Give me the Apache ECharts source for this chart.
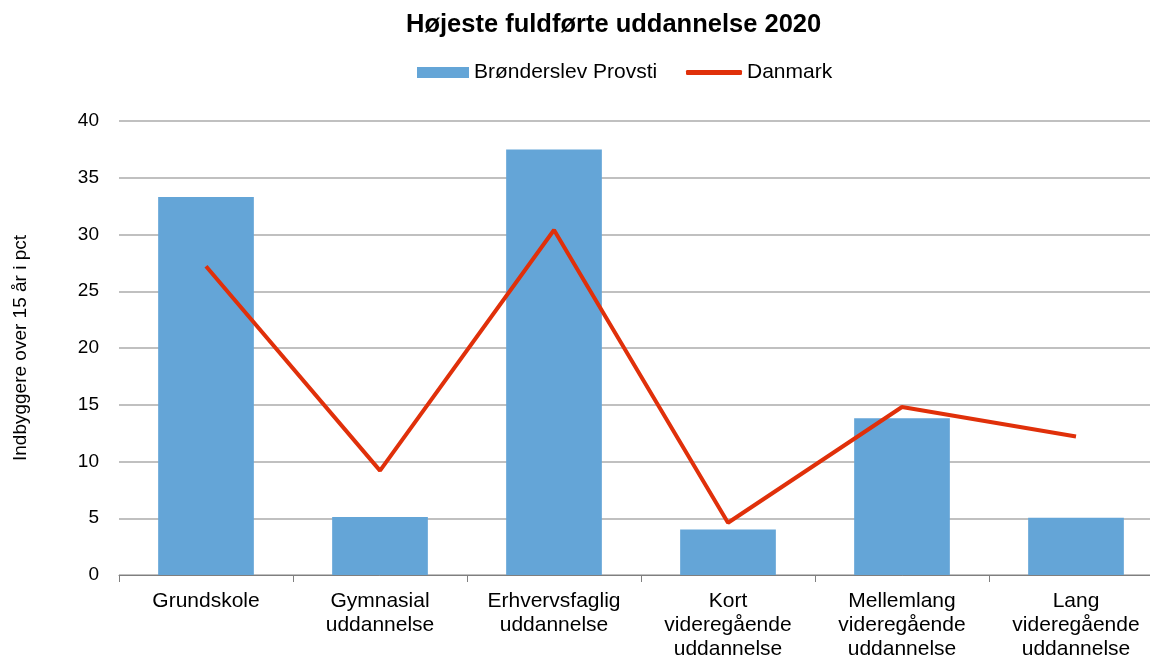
<html>
<head>
    <meta charset="utf-8">
    <title>Højeste fuldførte uddannelse 2020</title>
    <style>
    html, body {
      padding: 0;
      margin: 0;
      height: 100%;
      width: 100%;
      overflow: hidden;
      background: #fff;
    }
    #main {
      width: 1163px;
      height: 657px;
    }
    </style>
    <script src="https://cdn.jsdelivr.net/npm/echarts@6/dist/echarts.min.js"></script>
</head>
<body>
    <div id="main"></div>
    <script>
    var categories = ['Grundskole', 'Gymnasial\nuddannelse', 'Erhvervsfaglig\nuddannelse',
        'Kort\nvideregående\nuddannelse', 'Mellemlang\nvideregående\nuddannelse', 'Lang\nvideregående\nuddannelse'];
    var provsti = [33.3, 5.1, 37.5, 4.0, 13.8, 5.05];
    var danmark = [27.2, 9.2, 30.4, 4.6, 14.8, 12.2];

    var myChart = echarts.init(document.getElementById('main'));
    var font = 'Arial, "Liberation Sans", sans-serif';
    var option = {
        backgroundColor: '#fff',
        animation: false,
        title: {
            text: 'Højeste fuldførte uddannelse 2020',
            left: 401,
            top: 7,
            textStyle: { fontFamily: font, fontSize: 25.5, fontWeight: 'bold', color: '#000' }
        },
        legend: [
            {
                top: 57,
                left: 412,
                itemWidth: 52,
                itemHeight: 11,
                textStyle: { fontFamily: font, fontSize: 21, color: '#000' },
                data: [{ name: 'Brønderslev Provsti', icon: 'rect' }]
            },
            {
                top: 57,
                left: 681,
                itemWidth: 56,
                itemHeight: 5,
                textStyle: { fontFamily: font, fontSize: 21, color: '#000' },
                data: [{ name: 'Danmark', icon: 'roundRect' }]
            }
        ],
        grid: {
            left: 119,
            right: 0,
            top: 121,
            bottom: 82,
            outerBoundsMode: 'none',
            containLabel: false
        },
        xAxis: {
            type: 'category',
            data: categories,
            axisLine: { lineStyle: { color: '#7f7f7f', width: 1 } },
            axisTick: { show: true, length: 7, lineStyle: { color: '#7f7f7f' } },
            axisLabel: {
                fontFamily: font, fontSize: 21, color: '#000', lineHeight: 24,
                margin: 14, interval: 0
            }
        },
        yAxis: {
            type: 'value',
            min: 0,
            max: 40,
            interval: 5,
            name: 'Indbyggere over 15 år i pct',
            nameLocation: 'middle',
            nameGap: 89,
            nameRotate: 90,
            nameTextStyle: { fontFamily: font, fontSize: 19, color: '#000' },
            axisLine: { show: false },
            axisTick: { show: false },
            splitLine: { lineStyle: { color: '#c0c0c0', width: 2 } },
            axisLabel: { fontFamily: font, fontSize: 19, color: '#000', margin: 20 }
        },
        series: [
            {
                name: 'Brønderslev Provsti',
                type: 'bar',
                data: provsti,
                barWidth: '55%',
                itemStyle: { color: '#64a5d7' }
            },
            {
                name: 'Danmark',
                type: 'line',
                data: danmark,
                symbol: 'none',
                lineStyle: { color: '#e0300a', width: 4 },
                itemStyle: { color: '#e0300a' }
            }
        ]
    };
    myChart.setOption(option);
    </script>
</body>
</html>
